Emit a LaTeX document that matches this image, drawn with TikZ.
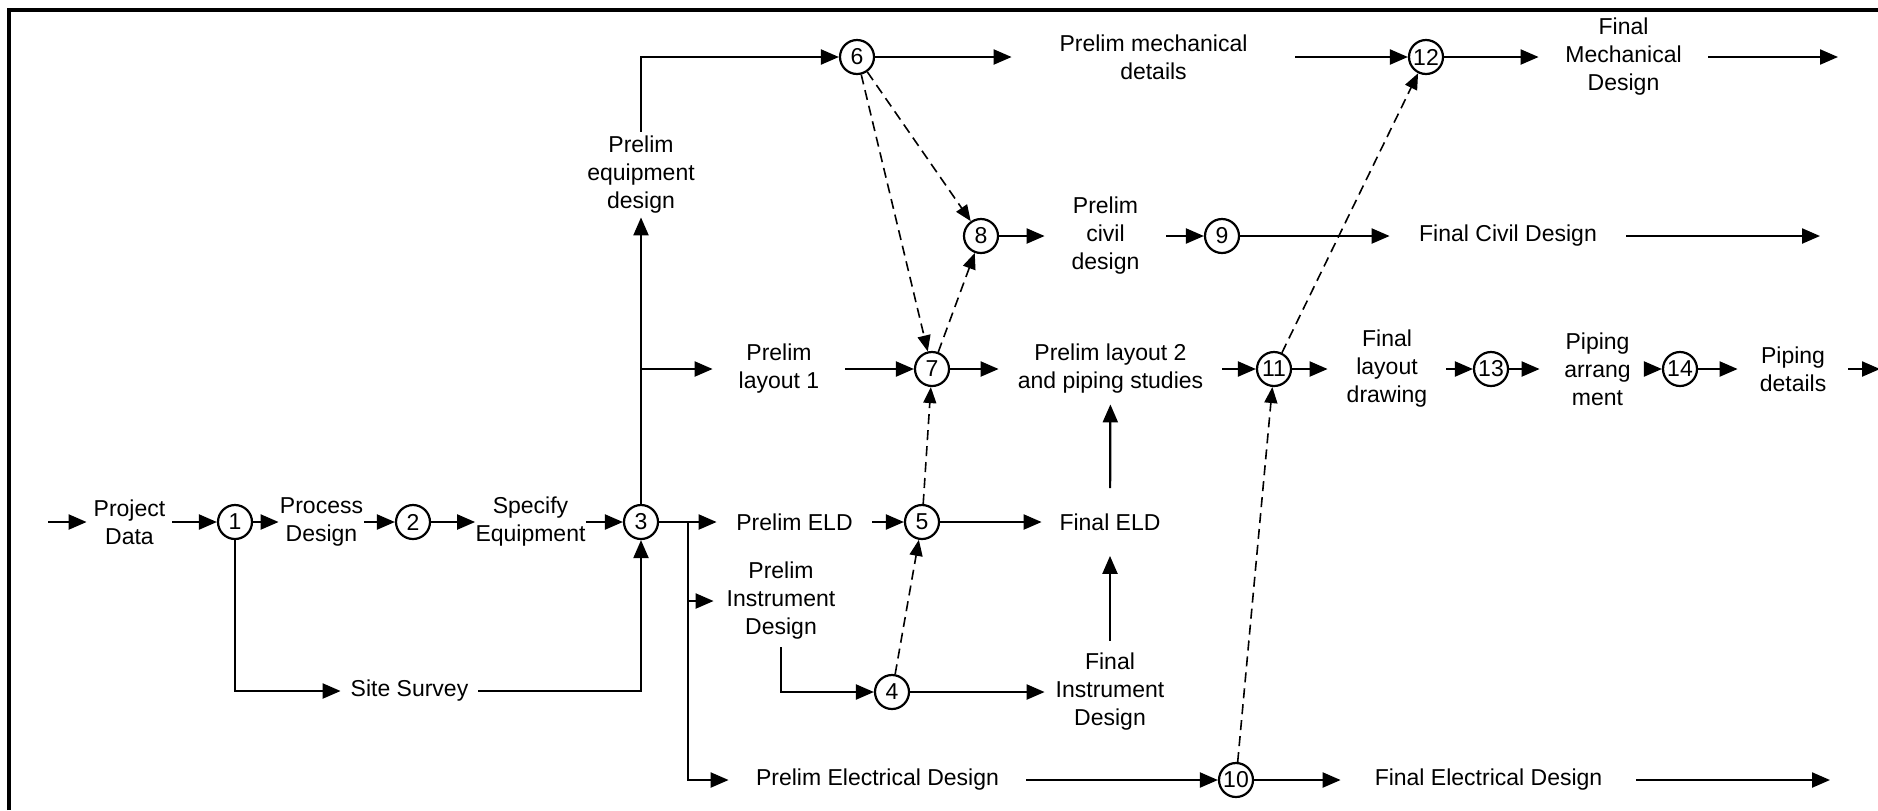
\documentclass[tikz,border=0pt]{standalone}
\usepackage{fontspec}
\setmainfont{Liberation Sans}
\usetikzlibrary{arrows.meta}

\begin{document}
\begin{tikzpicture}[
        x=0.5pt,
        y=-0.5pt,
        font=\fontsize{11.5}{14}\selectfont,
        event/.style={draw, circle, line width=1.1pt, minimum size=17pt, inner sep=0pt},
        task/.style={align=center, inner sep=0pt},
        flow/.style={line width=1.1pt, -{Triangle[length=9pt,width=7.5pt]}},
        link/.style={line width=0.8pt, dash pattern=on 5pt off 3pt,
            -{Triangle[length=8pt,width=6.5pt]}}
    ]

    \useasboundingbox (0,0) rectangle (1878,810);

    % Frame
    \draw[line width=1.6pt] (9,810) -- (9,10) -- (1878,10);

    % Events
    \node[event] (e1) at (235,522) {1};
    \node[event] (e2) at (413,522) {2};
    \node[event] (e3) at (641,522) {3};
    \node[event] (e4) at (892,692) {4};
    \node[event] (e5) at (922,522) {5};
    \node[event] (e6) at (857,57) {6};
    \node[event] (e7) at (932,369) {7};
    \node[event] (e8) at (981,236) {8};
    \node[event] (e9) at (1222,236) {9};
    \node[event] (e10) at (1236,780) {10};
    \node[event] (e11) at (1274,369) {11};
    \node[event] (e12) at (1426,57) {12};
    \node[event] (e13) at (1491,369) {13};
    \node[event] (e14) at (1680,369) {14};

    % Activities
    \node[task, minimum width=42.5pt] (pd) at (129.5,522) {Project\\Data};
    \node[task, minimum width=42.5pt] (prd) at (321.5,522) {Process\\Design};
    \node[task, minimum width=52.5pt] (se) at (530.5,522) {Specify\\Equipment};
    \node[task, minimum width=68.5pt] (ss) at (409.5,691) {Site Survey};
    \node[task, minimum height=42.5pt] (ped) at (641,174.5) {Prelim\\equipment\\design};
    \node[task, minimum width=141.5pt] (pmd) at (1153.5,57) {Prelim mechanical\\details};
    \node[task, minimum width=84.5pt] (fmd) at (1623.5,57) {Final\\Mechanical\\Design};
    \node[task, minimum width=60.5pt] (pcd) at (1105.5,236) {Prelim\\civil\\design};
    \node[task, minimum width=118pt] (fcd) at (1508,236) {Final Civil Design};
    \node[task, minimum width=66pt] (pl1) at (779,369) {Prelim\\layout 1};
    \node[task, minimum width=111.5pt, minimum height=35pt] (pl2) at (1110.5,369)
        {Prelim layout 2\\and piping studies};
    \node[task, minimum width=59pt] (fld) at (1387,369) {Final\\layout\\drawing};
    \node[task, minimum width=57.5pt] (pa) at (1597.5,369) {Piping\\arrang\\ment};
    \node[task, minimum width=55pt] (pdet) at (1793,369) {Piping\\details};
    \node[task, minimum width=77.5pt] (peld) at (794.5,522) {Prelim ELD};
    \node[task, minimum width=68pt, minimum height=33.5pt] (feld) at (1110,522) {Final ELD};
    \node[task, minimum width=67pt, minimum height=46pt] (pid) at (781,601)
        {Prelim\\Instrument\\Design};
    \node[task, minimum width=65pt, minimum height=51pt] (fid) at (1110,692)
        {Final\\Instrument\\Design};
    \node[task, minimum width=148.5pt] (pedes) at (877.5,780) {Prelim Electrical Design};
    \node[task, minimum width=147.5pt] (fed) at (1488.5,780) {Final Electrical Design};

    % Free ends
    \coordinate (start) at (48,522);
    \coordinate (jn) at (688,522);
    \coordinate (mend) at (1838,57);
    \coordinate (cend) at (1820,236);
    \coordinate (pend) at (1880,369);
    \coordinate (eend) at (1830,780);

    % Process row
    \draw[flow] (start) -- (pd);
    \draw[flow] (pd) -- (e1);
    \draw[flow] (e1) -- (prd);
    \draw[flow] (prd) -- (e2);
    \draw[flow] (e2) -- (se);
    \draw[flow] (se) -- (e3);
    \draw[flow] (e1) |- (ss);
    \draw[flow] (ss) -| (e3);

    % Equipment and layout
    \draw[flow] (e3) -- (ped);
    \draw[flow] (ped) |- (e6);
    \draw[flow] (e3 |- pl1) -- (pl1);
    \draw[flow] (e6) -- (pmd);
    \draw[flow] (pmd) -- (e12);
    \draw[flow] (e12) -- (fmd);
    \draw[flow] (fmd) -- (mend);
    \draw[flow] (e8) -- (pcd);
    \draw[flow] (pcd) -- (e9);
    \draw[flow] (e9) -- (fcd);
    \draw[flow] (fcd) -- (cend);
    \draw[flow] (pl1) -- (e7);
    \draw[flow] (e7) -- (pl2);
    \draw[flow] (pl2) -- (e11);
    \draw[flow] (e11) -- (fld);
    \draw[flow] (fld) -- (e13);
    \draw[flow] (e13) -- (pa);
    \draw[flow] (pa) -- (e14);
    \draw[flow] (e14) -- (pdet);
    \draw[flow] (pdet) -- (pend);

    % Electrical and instruments
    \draw[flow] (e3) -- (peld);
    \draw[flow] (jn |- pid) -- (pid);
    \draw[flow] (jn) |- (pedes);
    \draw[flow] (peld) -- (e5);
    \draw[flow] (e5) -- (feld);
    \draw[flow] (pid) |- (e4);
    \draw[flow] (e4) -- (fid);
    \draw[flow] (fid) -- (feld);
    \draw[flow] (feld) -- (pl2);
    \draw[flow] (pedes) -- (e10);
    \draw[flow] (e10) -- (fed);
    \draw[flow] (fed) -- (eend);

    % Dummy activities
    \draw[link] (e4) -- (e5);
    \draw[link] (e5) -- (e7);
    \draw[link] (e6) -- (e7);
    \draw[link] (e6) -- (e8);
    \draw[link] (e7) -- (e8);
    \draw[link] (e10) -- (e11);
    \draw[link] (e11) -- (e12);

\end{tikzpicture}
\end{document}
